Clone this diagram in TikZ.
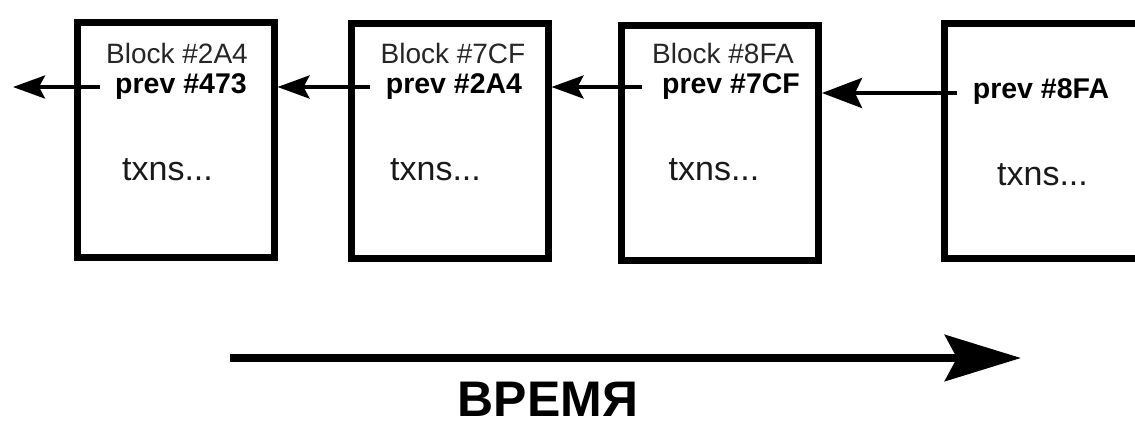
\documentclass[tikz,border=0pt]{standalone}
\usepackage{fontspec}
\setmainfont{Liberation Sans}
\usetikzlibrary{arrows.meta}
\tikzset{
  blockbox/.style={draw=black, line width=7pt, minimum width=197pt, minimum height=235pt, inner sep=0pt, fill=white},
  hdr/.style={anchor=base, inner sep=0pt, text=black!85, font=\fontsize{28}{30}\selectfont},
  prv/.style={anchor=base, inner sep=0pt, text=black, font=\fontsize{28.5}{30}\selectfont\bfseries},
  txn/.style={anchor=base, inner sep=0pt, text=black!90, font=\fontsize{34}{36}\selectfont},
  link/.style={line width=4pt, -{Stealth[length=32pt, width=23pt, inset=6pt]}},
  biglink/.style={line width=4pt, -{Stealth[length=40pt, width=30pt, inset=7pt]}},
  timearrow/.style={line width=8pt, -{Stealth[length=76pt, width=46pt, inset=12pt]}},
  timelabel/.style={anchor=base, inner sep=0pt, text depth=0pt, font=\fontsize{50}{52}\selectfont\bfseries}
}
\begin{document}
\begin{tikzpicture}[x=1pt, y=-1pt]
\useasboundingbox (0,0) rectangle (1135,421);
\fill[white] (0,0) rectangle (1135,421);
% blocks
\node[blockbox] (b1) at (175.5,139.5) {};
\node[blockbox] (b2) at (449.5,141) {};
\node[blockbox] (b3) at (720,142.5) {};
\node[blockbox] (b4) at (1042.5,141) {};
% texts
\node[hdr] (h1) at (177,63) {Block \#2A4};
\node[prv] (p1) at (181,93) {prev \#473};
\node[txn] (t1) at (167.5,180) {txns...};
\node[hdr] (h2) at (453,63) {Block \#7CF};
\node[prv] (p2) at (454,93) {prev \#2A4};
\node[txn] (t2) at (435.5,180) {txns...};
\node[hdr] (h3) at (723,63) {Block \#8FA};
\node[prv] (p3) at (731,93) {prev \#7CF};
\node[txn] (t3) at (714,180) {txns...};
\node[prv] (p4) at (1041,98) {prev \#8FA};
\node[txn] (t4) at (1042.5,185) {txns...};
% links
\coordinate (s1) at (100,87);
\coordinate (e0) at (13,87);
\coordinate (s2) at (370,87);
\coordinate (s3) at (642,87);
\coordinate (s4) at (957,93);
\draw[link] (s1) -- (e0);
\draw[link] (s2) -- (s2 -| b1.east);
\draw[link] (s3) -- (s3 -| b2.east);
\draw[biglink] (s4) -- (s4 -| b3.east);
% time
\coordinate (ta) at (230,358);
\coordinate (tb) at (1021,358);
\draw[timearrow] (ta) -- (tb);
\node[timelabel] (time) at (548,416) {ВРЕМЯ};
\end{tikzpicture}
\end{document}
